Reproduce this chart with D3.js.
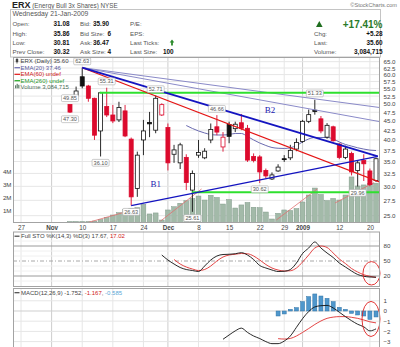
<!DOCTYPE html>
<html><head><meta charset="utf-8">
<script src="https://cdn.jsdelivr.net/npm/d3@7/dist/d3.min.js"></script>
<style>
body{margin:0;background:#fff;}
svg{display:block;font-family:"Liberation Sans",Arial,sans-serif;}
</style></head><body>
<svg id="chart" width="400" height="347"></svg>
<script>
// ================= DATA =================
const dates = ["2008-11-06","2008-11-07","2008-11-10","2008-11-11","2008-11-12","2008-11-13","2008-11-14","2008-11-17","2008-11-18","2008-11-19","2008-11-20","2008-11-21","2008-11-24","2008-11-25","2008-11-26","2008-11-28",
"2008-12-01","2008-12-02","2008-12-03","2008-12-04","2008-12-05","2008-12-08","2008-12-09","2008-12-10","2008-12-11","2008-12-12","2008-12-15","2008-12-16","2008-12-17","2008-12-18","2008-12-19","2008-12-22","2008-12-23","2008-12-24","2008-12-26","2008-12-29","2008-12-30","2008-12-31",
"2009-01-02","2009-01-05","2009-01-06","2009-01-07","2009-01-08","2009-01-09","2009-01-12","2009-01-13","2009-01-14","2009-01-15","2009-01-16","2009-01-20","2009-01-21"];
const open  = [49.85,52.6,59.2,55.9,51.8,42.3,49.2,46.7,45.3,47.9,40.2,29.6,40.0,44.6,42.5,46.7,43.2,36.6,34.7,35.9,29.3,36.4,35.8,40.0,43.4,38.3,44.0,42.9,44.5,43.0,36.1,36.0,33.1,31.4,33.0,35.6,35.8,37.8,39.6,44.9,48.1,45.6,40.7,43.4,39.0,35.9,36.8,33.1,35.2,33.0,31.08];
const high  = [49.85,55.7,62.63,56.3,52.0,53.9,55.31,49.7,50.7,49.7,40.6,37.2,45.3,47.6,52.7,50.2,44.3,38.8,39.3,36.6,33.1,40.0,38.0,44.3,46.66,42.0,44.8,44.8,47.0,43.9,36.8,36.4,33.5,32.7,34.4,36.4,38.8,40.4,45.3,48.3,51.33,46.4,44.4,43.7,39.2,38.6,37.2,35.3,36.6,33.5,35.86];
const low   = [47.30,51.8,55.1,50.7,40.0,36.10,46.1,44.4,44.7,40.7,26.63,28.1,36.4,40.7,41.7,46.4,33.1,34.7,33.4,29.3,25.61,35.8,35.5,39.2,41.2,37.2,39.2,42.0,42.5,34.9,34.8,30.62,31.5,31.2,32.8,34.9,35.3,37.3,39.3,44.4,46.8,41.7,40.3,39.6,35.5,35.5,32.1,29.96,31.0,30.0,30.81];
const close = [47.55,54.2,55.9,51.8,41.2,53.6,46.7,45.0,48.9,41.0,28.1,36.4,42.3,44.2,51.8,49.8,34.7,37.6,38.8,30.7,32.5,37.0,37.3,42.7,42.0,40.7,40.9,44.1,43.0,35.3,35.2,32.8,32.0,32.2,33.8,35.5,37.5,39.4,44.9,46.8,47.7,42.3,43.8,39.8,35.9,37.8,32.8,34.7,34.5,30.32,35.60];
const volumeM = [0.12,0.12,0.12,0.12,0.15,0.27,0.43,0.62,0.80,1.06,1.14,1.19,1.45,0.70,0.78,0.23,1.01,1.26,1.53,1.73,1.90,2.09,1.78,2.15,1.98,1.47,1.82,1.16,1.40,1.59,1.22,1.19,0.85,0.31,0.75,1.01,0.97,1.12,1.63,2.17,2.71,2.21,1.73,1.90,1.78,2.17,3.57,2.87,2.95,3.06,3.084715];

const ema20Start = 19;
const ema20 = [43.75,42.95,42.29,41.77,41.38,41.25,41.25,41.38,41.64,41.64,40.87,40.0,39.25,38.65,38.17,37.99,37.94,38.10,38.65,39.5,40.24,40.62,40.62,40.62,40.24,39.5,38.9,38.5,38.1,37.8,37.55,37.46];

const stoKStart = 15;
const stoK = [62,52,44,37,33,31,29,40,52,60,63,63.5,64.5,66.7,62,53,41,36,32,29,29.5,33,46,65,76,88,76,66,57,46,38,30,23,19.5,18,17.67];
const stoDStart = 17;
const stoD = [53,44,38,34,31,33,40,50,58,62,63.5,65,64.5,60,52,43,36,32,30,30.5,36,48,62,76,80,77,66,54,45,35,28,22.5,19.5,17.02];

const macdStart = 25;
const macdLine = [-2.77,-2.35,-1.95,-1.68,-2.1,-2.45,-2.7,-3.0,-3.2,-3.2,-2.95,-2.45,-1.6,-0.75,-0.05,0.4,0.52,0.55,0.3,-0.12,-0.55,-0.95,-1.3,-1.55,-1.95,-1.752];
const signalStart = 34;
const macdSignal = [-2.71,-2.75,-2.69,-2.45,-2.1,-1.72,-1.32,-0.98,-0.72,-0.6,-0.55,-0.55,-0.62,-0.72,-0.88,-1.06,-1.167];
const macdHist = [-0.49,-0.29,0.16,0.33,0.92,1.41,1.67,1.47,1.24,0.92,0.36,0.16,-0.23,-0.39,-0.49,-0.82,-0.585];

// axis ticks
const xTickIdx = [-8,-3,2,7,12,16,21,26,31,35,38,44,49];
const xTickLabels = ["27","Nov","10","17","24","Dec","8","15","22","29","2009","12","20"];
const monthLabels = ["Nov","Dec","2009"];
const priceTicks = [25,27.5,30,32.5,35,37.5,40,42.5,45,47.5,50,52.5,55,57.5,60,62.5,65];
const volTicks = [1,2,3,4];
const volTickLabels = ["1M","2M","3M","4M"];
const stoTicks = [20,50,80];
const macdTicks = [1,0,-1,-2,-3];

// annotations (data coordinates: day index, price / volume in M)
const highLabelIdx = [0,2,6,14,24,40];
const highLabelText = ["49.85","62.63","55.31","52.71","46.66","51.33"];
const lowLabelIdx = [0,5,10,20,31,47];
const lowLabelText = ["47.30","36.10","26.63","25.61","30.62","29.96"];
const trendB2 = [[2,62.63],[50.3,36.1]];
const trendB1 = [[10,26.63],[50.3,36.1]];
const trendRed = [[2,62.63],[50.65,30.8]];
const trendFan1 = [[2,62.63],[50.65,48.9]];
const trendFan2 = [[2,62.63],[50.65,44.8]];
const greenHigh = [[4.85,53.6],[50.65,53.6]];
const greenLow = [[19.9,28.9],[50.65,28.9]];
const volLines = [[[2.94,0.04],[10.9,1.1]],[[14.8,0.15],[21.5,2.64]],[[33.7,0.23],[40.4,2.64]],[[43.3,1.55],[49.7,3.14]]];
const textB1 = [14.0,29.9], textB2 = [32.7,47.3];
const stoEllipse = {i:49.26, v:25.4, di:1.39, dv:23.4};
const macdEllipse = {i:49.18, v:-0.78, di:1.47, dv:1.72};

// quote header
const titleSym = "ERX", titleName = " (Energy Bull 3x Shares) NYSE";
const quoteDate = "Wednesday 21-Jan-2009";
const labels1 = ["Open:","High:","Low:","Prev Close:"], values1 = ["31.08","35.86","30.81","30.32"];
const labels2 = ["Bid:","Bid Size:","Ask:","Ask Size:"], values2 = ["35.90","6","36.47","4"];
const labels3 = ["P/E:","EPS:","Last Ticks:","Last Size:"], values3 = ["","","","100"];
const labels4 = ["Chg:","Last:","Volume:"], values4 = ["+5.28","35.60","3,084,715"];
const pctChange = "+17.41%";

// ================= DRAW =================
const svg = d3.select("#chart");
const L = 13, R = 380;
const PT = 57, PB = 223, ST = 231.5, SB = 287, MT = 288, MB = 352;
const RED = "#dc0a2d", GRID = "#e6e6e6", GRIDM = "#cdcdcd", FRAME = "#a3a3a3";

const x = d3.scaleLinear().domain([-9.31, 50.65]).range([L, R]);
const yP = d3.scaleLog().domain([25, 65]).range([215.7, 61.7]);
const yV = d3.scaleLinear().domain([0, 4]).range([223, 171.4]);
const yS = d3.scaleLinear().domain([0, 100]).range([286, 236]);
const yM = d3.scaleLinear().domain([-3, 1]).range([341.6, 300.8]);

const defs = svg.append("defs");
function clip(id, y0, y1){ defs.append("clipPath").attr("id",id).append("rect").attr("x",L).attr("y",y0).attr("width",R-L).attr("height",y1-y0); }
clip("cp",PT,PB); clip("cs",ST,SB); clip("cm",MT,MB);

// ---- header ----
const hdr = svg.append("g");
const t = hdr.append("text").attr("x",12).attr("y",8);
t.append("tspan").attr("font-weight","bold").attr("font-size",9).attr("fill","#222").text(titleSym);
t.append("tspan").attr("font-size",6.3).attr("fill","#555").text(titleName);
hdr.append("text").attr("x",397).attr("y",6.5).attr("text-anchor","end").attr("font-size",5.6).attr("fill","#777").text("\u00A9StockCharts.com");
hdr.append("rect").attr("x",10.5).attr("y",9.5).attr("width",370).attr("height",PT-9.5).attr("fill","none").attr("stroke","#c4c4c4");
hdr.append("text").attr("x",12.5).attr("y",16.3).attr("font-size",6.8).attr("fill","#555").text(quoteDate);
const rowY = [26.3,35.6,44.6,54];
const lab = (xx,yy,s)=>hdr.append("text").attr("x",xx).attr("y",yy).attr("font-size",6.2).attr("fill","#555").text(s);
const val = (xx,yy,s,anchor)=>hdr.append("text").attr("x",xx).attr("y",yy).attr("font-size",6.4).attr("font-weight","bold").attr("fill","#111").attr("text-anchor",anchor||"start").text(s);
const v2x = [93,107.5,93,107.5];
rowY.forEach((yy,k)=>{
  lab(12.5,yy,labels1[k]); val(53.5,yy,values1[k]);
  lab(80,yy,labels2[k]); val(v2x[k],yy,values2[k]);
  lab(130,yy,labels3[k]); if(values3[k]) val(163,yy,values3[k]);
});
// last tick arrow
hdr.append("path").attr("d","M172,39.5 L174.3,42.5 L172.9,42.5 L172.9,45.5 L171.1,45.5 L171.1,42.5 L169.7,42.5 Z").attr("fill","#2a8a2a");
// right block
hdr.append("path").attr("d","M316,27 L319.3,21 L322.6,27 Z").attr("fill","#1f6e1f");
hdr.append("text").attr("x",382.5).attr("y",27.6).attr("text-anchor","end").attr("font-size",10).attr("font-weight","bold").attr("fill","#2a7a2a").text(pctChange);
labels4.forEach((s,k)=>{ lab(314,rowY[k+1],s); val(382.5,rowY[k+1],values4[k],"end"); });

// ---- grids ----
const grid = svg.append("g");
function vgrid(y0,y1){
  xTickIdx.forEach((d,k)=>grid.append("line").attr("x1",x(d)).attr("x2",x(d)).attr("y1",y0).attr("y2",y1)
    .attr("stroke", monthLabels.includes(xTickLabels[k])?GRIDM:GRID).attr("stroke-width",1));
}
vgrid(PT,PB); vgrid(ST,SB); vgrid(MT,MB);
priceTicks.forEach(p=>grid.append("line").attr("x1",L).attr("x2",R).attr("y1",yP(p)).attr("y2",yP(p)).attr("stroke",GRID));
[10,30,40,60,70,90].forEach(v=>grid.append("line").attr("x1",L).attr("x2",R).attr("y1",yS(v)).attr("y2",yS(v)).attr("stroke","#f0f0f0"));
[80,20].forEach(v=>grid.append("line").attr("x1",L).attr("x2",R).attr("y1",yS(v)).attr("y2",yS(v)).attr("stroke","#9a9a9a"));
grid.append("line").attr("x1",L).attr("x2",R).attr("y1",yS(50)).attr("y2",yS(50)).attr("stroke","#a8a8a8").attr("stroke-dasharray","4,2,1,2");
macdTicks.forEach(v=>grid.append("line").attr("x1",L).attr("x2",R).attr("y1",yM(v)).attr("y2",yM(v)).attr("stroke",v===0?"#cfcfcf":GRID));

// ---- price panel ----
const pp = svg.append("g").attr("clip-path","url(#cp)");
// volume
pp.append("g").selectAll("rect").data(volumeM).join("rect")
  .attr("x",(d,i)=>x(i)-2.4).attr("y",d=>yV(d)).attr("width",4.8).attr("height",d=>yV(0)-yV(d))
  .attr("fill","#a3baa9").attr("stroke","#809a89").attr("stroke-width",0.5);
// volume trend annotations
volLines.forEach(s=>pp.append("line").attr("x1",x(s[0][0])).attr("y1",yV(s[0][1])).attr("x2",x(s[1][0])).attr("y2",yV(s[1][1]))
  .attr("stroke","#e07070").attr("stroke-width",0.8));
// EMA20
pp.append("path").datum(ema20.map((v,k)=>[ema20Start+k,v]))
  .attr("d",d3.line().x(d=>x(d[0])).y(d=>yP(d[1])).curve(d3.curveMonotoneX))
  .attr("fill","none").attr("stroke","#6a6ab0").attr("stroke-width",1);
// candles
const candles = dates.map((d,i)=>({i,o:open[i],h:high[i],l:low[i],c:close[i],pc:i>0?close[i-1]:open[i]}));
const cg = pp.append("g");
candles.forEach(d=>{
  const col = d.c < d.pc ? RED : "#111";
  const up = d.c >= d.o;
  const cx = x(d.i);
  cg.append("line").attr("x1",cx).attr("x2",cx).attr("y1",yP(d.h)).attr("y2",yP(d.l)).attr("stroke",col).attr("stroke-width",0.9);
  const yt = yP(Math.max(d.o,d.c)), yb = yP(Math.min(d.o,d.c));
  cg.append("rect").attr("x",cx-2).attr("y",yt).attr("width",4).attr("height",Math.max(yb-yt,0.9))
    .attr("fill",up?"#fff":col).attr("stroke",col).attr("stroke-width",0.8);
});
// trend lines
const seg = (pts,col,w)=>pp.append("line").attr("x1",x(pts[0][0])).attr("y1",yP(pts[0][1])).attr("x2",x(pts[1][0])).attr("y2",yP(pts[1][1])).attr("stroke",col).attr("stroke-width",w);
seg(trendFan1,"#8a8ac8",1); seg(trendFan2,"#8a8ac8",1);
seg(greenHigh,"#2ee02e",2); seg(greenLow,"#2ee02e",2);
seg(trendRed,"#e41414",1.2);
seg(trendB2,"#1414c0",1.8); seg(trendB1,"#1414c0",1.3);
// price labels
function tag(i,p,s,above){
  const g = pp.append("g");
  const tx = g.append("text").attr("x",x(i)).attr("y",0).attr("text-anchor","middle").attr("font-size",5.6).attr("fill","#555").text(s);
  const w = tx.node().getComputedTextLength()+3;
  const cy = above ? yP(p)-6.3 : yP(p)+6.3;
  tx.attr("y",cy+2);
  g.insert("rect","text").attr("x",x(i)-w/2).attr("y",cy-3.4).attr("width",w).attr("height",6.8).attr("rx",1)
    .attr("fill","#fff").attr("stroke","#aaa").attr("stroke-width",0.6);
}
highLabelIdx.forEach((i,k)=>tag(i,high[i],highLabelText[k],true));
lowLabelIdx.forEach((i,k)=>tag(i,low[i],lowLabelText[k],false));
pp.append("text").attr("x",x(textB1[0])).attr("y",yP(textB1[1])).attr("text-anchor","middle").attr("font-family","'Liberation Serif',serif").attr("font-size",9).attr("fill","#2020b0").text("B1");
pp.append("text").attr("x",x(textB2[0])).attr("y",yP(textB2[1])).attr("text-anchor","middle").attr("font-family","'Liberation Serif',serif").attr("font-size",9).attr("fill","#2020b0").text("B2");

// legend
const lg = svg.append("g").attr("font-size",6);
const legRows = [62.7,69.7,76.3,82.7,89.3];
lg.append("line").attr("x1",17).attr("x2",17).attr("y1",57.8).attr("y2",63.6).attr("stroke","#444").attr("stroke-width",0.7);
lg.append("rect").attr("x",15.8).attr("y",59).attr("width",2.4).attr("height",3.2).attr("fill","#444");
lg.append("text").attr("x",20.5).attr("y",legRows[0]).attr("fill","#444").text("ERX (Daily) 35.60");
const legLine = (yy,col)=>lg.append("line").attr("x1",14.5).attr("x2",20).attr("y1",yy-2).attr("y2",yy-2).attr("stroke",col).attr("stroke-width",1.2);
legLine(legRows[1],"#6a6ab0"); lg.append("text").attr("x",20.5).attr("y",legRows[1]).attr("fill","#5a5aa0").text("EMA(20) 37.46");
legLine(legRows[2],"#e41414"); lg.append("text").attr("x",20.5).attr("y",legRows[2]).attr("fill","#d01818").text("EMA(60) undef");
legLine(legRows[3],"#22aa22"); lg.append("text").attr("x",20.5).attr("y",legRows[3]).attr("fill","#2a9a2a").text("EMA(260) undef");
[0,1.6,3.2].forEach((dx,k)=>lg.append("rect").attr("x",15+dx).attr("y",legRows[4]-2-[2,3.5,2.5][k]).attr("width",1.2).attr("height",[2,3.5,2.5][k]+1).attr("fill","#5f7f6a"));
lg.append("text").attr("x",20.5).attr("y",legRows[4]).attr("fill","#4f6f5a").text("Volume 3,084,715");

// ---- STO panel ----
const sp = svg.append("g").attr("clip-path","url(#cs)");
const ln = (yS_)=>d3.line().x(d=>x(d[0])).y(d=>yS_(d[1])).curve(d3.curveMonotoneX);
sp.append("path").datum(stoD.map((v,k)=>[stoDStart+k,v])).attr("d",ln(yS)).attr("fill","none").attr("stroke","#e03030").attr("stroke-width",0.9);
sp.append("path").datum(stoK.map((v,k)=>[stoKStart+k,v])).attr("d",ln(yS)).attr("fill","none").attr("stroke","#111").attr("stroke-width",0.9);
const sL = svg.append("text").attr("x",21).attr("y",238.2).attr("font-size",6).attr("fill","#444");
svg.append("line").attr("x1",14.5).attr("x2",19.5).attr("y1",236.2).attr("y2",236.2).attr("stroke","#444").attr("stroke-width",1.2);
sL.append("tspan").text("Full STO %K(14,3) %D(3) 17.67, ");
sL.append("tspan").attr("fill","#d02020").text("17.02");

// ---- MACD panel ----
const mp = svg.append("g").attr("clip-path","url(#cm)");
mp.append("g").selectAll("rect").data(macdHist).join("rect")
  .attr("x",(d,k)=>x(signalStart+k)-2).attr("y",d=>Math.min(yM(d),yM(0))).attr("width",4)
  .attr("height",d=>Math.abs(yM(d)-yM(0))).attr("fill","#4f97cc").attr("stroke","#2f73a6").attr("stroke-width",0.5);
mp.append("path").datum(macdSignal.map((v,k)=>[signalStart+k,v])).attr("d",ln(yM)).attr("fill","none").attr("stroke","#e03030").attr("stroke-width",0.9);
mp.append("path").datum(macdLine.map((v,k)=>[macdStart+k,v])).attr("d",ln(yM)).attr("fill","none").attr("stroke","#111").attr("stroke-width",0.9);
svg.append("line").attr("x1",14.5).attr("x2",19.5).attr("y1",292.7).attr("y2",292.7).attr("stroke","#444").attr("stroke-width",1.2);
const mL = svg.append("text").attr("x",21).attr("y",294.7).attr("font-size",6).attr("fill","#444");
mL.append("tspan").text("MACD(12,26,9) -1.752, ");
mL.append("tspan").attr("fill","#d02020").text("-1.167");
mL.append("tspan").text(", ");
mL.append("tspan").attr("fill","#5aa6d6").text("-0.585");

// ellipses
svg.append("ellipse").attr("cx",x(stoEllipse.i)).attr("cy",yS(stoEllipse.v))
  .attr("rx",x(stoEllipse.i+stoEllipse.di)-x(stoEllipse.i)).attr("ry",yS(0)-yS(stoEllipse.dv))
  .attr("fill","none").attr("stroke","#e02020").attr("stroke-width",0.9);
svg.append("ellipse").attr("cx",x(macdEllipse.i)).attr("cy",yM(macdEllipse.v))
  .attr("rx",x(macdEllipse.i+macdEllipse.di)-x(macdEllipse.i)).attr("ry",yM(0)-yM(macdEllipse.dv))
  .attr("fill","none").attr("stroke","#e02020").attr("stroke-width",0.9);

// ---- frames ----
[[PT,PB],[ST,SB],[MT,MB]].forEach(f=>svg.append("rect").attr("x",L+0.5).attr("y",f[0]+0.5).attr("width",R-L-1).attr("height",f[1]-f[0]-1)
  .attr("fill","none").attr("stroke",FRAME).attr("stroke-width",1));

// ---- axes ----
function styleAxis(g){ g.select(".domain").remove(); g.selectAll("text").attr("fill","#444").attr("font-family","'Liberation Sans',Arial,sans-serif"); }
svg.append("g").attr("transform",`translate(${R},0)`)
  .call(d3.axisRight(yP).tickValues(priceTicks).tickFormat(d3.format(".1f")).tickSize(0).tickPadding(3.5))
  .attr("font-size",6.2).call(styleAxis);
svg.append("g").attr("transform",`translate(${L},0)`)
  .call(d3.axisLeft(yV).tickValues(volTicks).tickFormat((d,k)=>volTickLabels[k]).tickSize(0).tickPadding(1.5))
  .attr("font-size",6.2).call(styleAxis);
const xa = svg.append("g").attr("transform",`translate(0,${PB})`)
  .call(d3.axisBottom(x).tickValues(xTickIdx).tickFormat((d,k)=>xTickLabels[k]).tickSize(0).tickPadding(2.2))
  .attr("font-size",6.3).call(styleAxis);
xa.selectAll("text").attr("font-weight",d=>monthLabels.includes(xTickLabels[xTickIdx.indexOf(d)])?"bold":"normal");
svg.append("g").attr("transform",`translate(${R},0)`)
  .call(d3.axisRight(yS).tickValues(stoTicks).tickSize(0).tickPadding(3.5))
  .attr("font-size",6.2).call(styleAxis);
svg.append("g").attr("transform",`translate(${R},0)`)
  .call(d3.axisRight(yM).tickValues(macdTicks).tickFormat(d3.format("d")).tickSize(0).tickPadding(3.5))
  .attr("font-size",6.2).call(styleAxis);
</script>
</body></html>
